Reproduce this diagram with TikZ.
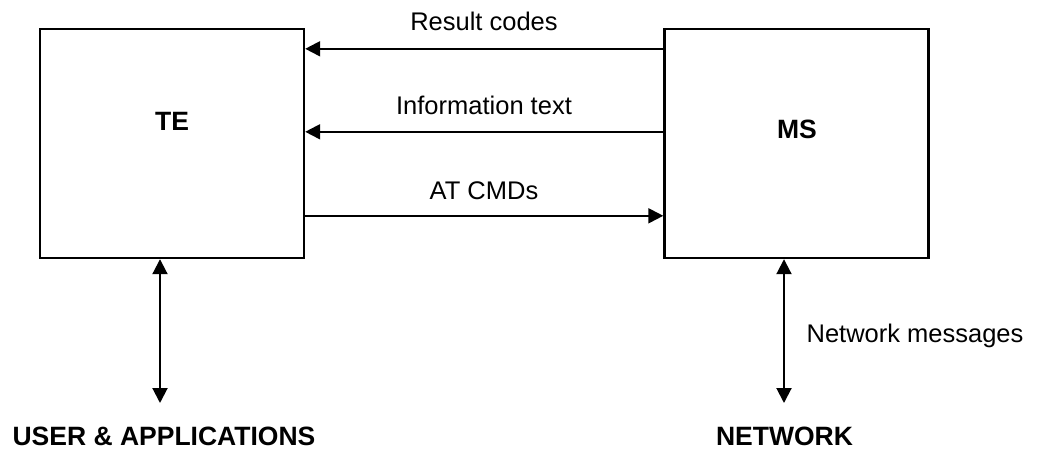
\documentclass[tikz,border=0pt]{standalone}
\usepackage{fontspec}
\setmainfont{Liberation Sans}
\usetikzlibrary{arrows.meta}
\begin{document}
\begin{tikzpicture}[x=1pt,y=-1pt,
  blockbox/.style={draw, line width=2.4pt, minimum width=264pt, minimum height=229pt, inner sep=0pt},
  arr/.style={line width=2pt, -{Triangle[length=15pt,width=15pt]}},
  darr/.style={line width=2pt, {Triangle[length=15pt,width=15pt]}-{Triangle[length=15pt,width=15pt]}},
  txt/.style={font=\fontsize{25.5}{30}\selectfont, inner sep=0pt, anchor=base},
  btxt/.style={font=\fontsize{26.5}{31}\selectfont\bfseries, inner sep=0pt, anchor=base}]
\useasboundingbox (0,0) rectangle (1039,450);
\node[blockbox] (te) at (172,143.5) {};
\node[blockbox] (ms) at (796.5,143.5) {};
\node[btxt] (tel) at (172,130) {TE};
\node[btxt] (msl) at (797,138) {MS};
% horizontal arrows
\draw[arr] ([yshift=-21pt]ms.north west) -- ([yshift=-21pt]te.north east);
\draw[arr] ([yshift=-104pt]ms.north west) -- ([yshift=-104pt]te.north east);
\draw[arr] ([yshift=-188pt]te.north east) -- ([yshift=-188pt]ms.north west);
\node[txt] (rc) at (484,30) {Result codes};
\node[txt] (it) at (484,114) {Information text};
\node[txt] (at) at (484,199) {AT CMDs};
% vertical arrows
\coordinate (ua) at (160,403);
\coordinate (nw) at (784,403);
\draw[darr] ([xshift=-12pt]te.south) -- (ua);
\draw[darr] ([xshift=-12.5pt]ms.south) -- (nw);
\node[txt] (nm) at (915,342) {Network messages};
\node[btxt] (user) at (164,445) {USER \& APPLICATIONS};
\node[btxt] (net) at (784.5,445) {NETWORK};
\end{tikzpicture}
\end{document}
